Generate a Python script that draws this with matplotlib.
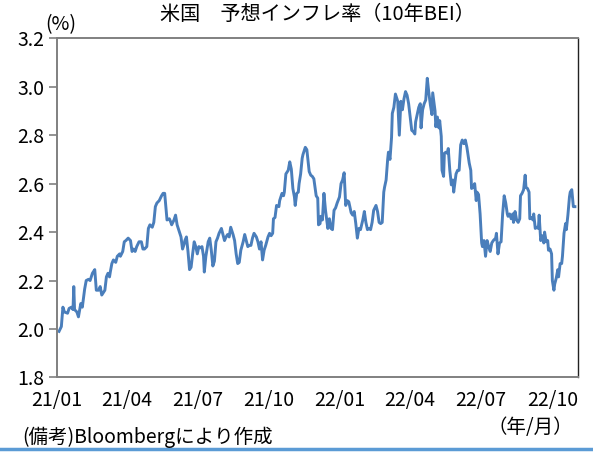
import pandas as pd
import matplotlib
matplotlib.use('Agg')
from matplotlib import pyplot as plt
from matplotlib.lines import Line2D

plt.rcParams['font.family'] = ['Noto Sans CJK JP', 'DejaVu Sans']

# ### data: US 10y breakeven inflation
start = pd.Timestamp('2021-01-04')
day_offsets = [
    0, 3, 5, 7, 11, 13, 16, 18, 19, 20, 23, 25, 28, 30, 33, 35, 38, 40, 42, 43,
    46, 48, 51, 53, 55, 59, 61, 63, 65, 66, 68, 70, 73, 75, 78, 79, 82, 84, 86, 89,
    92, 94, 96, 98, 100, 103, 106, 108, 110, 113, 115, 117, 120, 122, 124, 126, 129, 132, 134, 136,
    138, 139, 142, 144, 145, 148, 150, 152, 155, 157, 159, 161, 162, 164, 166, 168, 170, 172, 174, 176,
    178, 180, 182, 184, 186, 187, 189, 192, 194, 196, 198, 200, 202, 204, 206, 209, 211, 213, 215, 217,
    219, 221, 224, 226, 228, 230, 232, 234, 237, 239, 241, 243, 245, 247, 249, 251, 254, 256, 258, 260,
    262, 264, 266, 269, 271, 273, 275, 276, 278, 280, 283, 284, 287, 289, 290, 292, 295, 297, 299, 301,
    303, 304, 306, 308, 309, 311, 313, 314, 317, 319, 320, 322, 324, 326, 328, 331, 333, 334, 336, 337,
    339, 341, 343, 346, 348, 350, 352, 354, 356, 358, 361, 363, 365, 367, 369, 371, 373, 376, 378, 380,
    382, 384, 386, 388, 391, 393, 395, 397, 399, 401, 403, 405, 408, 410, 412, 414, 416, 418, 419, 421,
    423, 424, 426, 428, 429, 431, 433, 434, 436, 438, 440, 442, 444, 446, 448, 450, 452, 454, 456, 458,
    459, 461, 463, 465, 466, 468, 470, 472, 474, 476, 478, 480, 481, 484, 485, 487, 489, 490, 492, 493,
    495, 496, 498, 500, 501, 503, 505, 507, 508, 511, 513, 515, 517, 519, 521, 523, 525, 528, 530, 531,
    533, 535, 537, 538, 540, 542, 544, 545, 547, 549, 551, 553, 555, 557, 559, 562, 563, 565, 567, 569,
    571, 573, 575, 577, 578, 580, 582, 584, 585, 587, 589, 591, 593, 594, 596, 598, 600, 601, 603, 605,
    606, 608, 610, 611, 613, 615, 617, 618, 620, 622, 624, 625, 627, 629, 630, 632, 634, 635, 637, 638,
    640, 642, 643, 645, 647, 648, 650, 652, 653, 655, 657, 658, 660, 662, 664,
]
bei = [
    1.99, 2.01, 2.09, 2.07, 2.065, 2.085, 2.09, 2.08, 2.175, 2.08, 2.07, 2.05, 2.105, 2.09, 2.165, 2.20, 2.205, 2.20, 2.22, 2.23,
    2.245, 2.16, 2.16, 2.175, 2.14, 2.16, 2.215, 2.23, 2.215, 2.235, 2.27, 2.285, 2.275, 2.30, 2.31, 2.30, 2.32, 2.36, 2.365, 2.375,
    2.365, 2.32, 2.33, 2.32, 2.34, 2.36, 2.36, 2.33, 2.33, 2.34, 2.415, 2.43, 2.42, 2.44, 2.505, 2.52, 2.53, 2.55, 2.56, 2.56,
    2.49, 2.45, 2.455, 2.44, 2.43, 2.45, 2.47, 2.43, 2.40, 2.38, 2.33, 2.35, 2.365, 2.38, 2.32, 2.245, 2.255, 2.31, 2.36, 2.34,
    2.31, 2.34, 2.335, 2.34, 2.30, 2.235, 2.30, 2.36, 2.375, 2.325, 2.26, 2.28, 2.36, 2.375, 2.395, 2.415, 2.39, 2.365, 2.38, 2.39,
    2.38, 2.42, 2.39, 2.365, 2.31, 2.27, 2.275, 2.325, 2.36, 2.39, 2.365, 2.34, 2.345, 2.345, 2.375, 2.395, 2.38, 2.36, 2.33, 2.36,
    2.285, 2.325, 2.345, 2.38, 2.395, 2.385, 2.395, 2.455, 2.46, 2.51, 2.505, 2.53, 2.56, 2.55, 2.565, 2.64, 2.655, 2.69, 2.66, 2.58,
    2.545, 2.51, 2.56, 2.565, 2.60, 2.64, 2.705, 2.72, 2.75, 2.74, 2.71, 2.65, 2.635, 2.63, 2.62, 2.55, 2.54, 2.43, 2.435, 2.465,
    2.45, 2.56, 2.49, 2.415, 2.455, 2.415, 2.41, 2.49, 2.50, 2.52, 2.545, 2.60, 2.615, 2.645, 2.51, 2.53, 2.525, 2.48, 2.47, 2.485,
    2.435, 2.375, 2.415, 2.41, 2.45, 2.485, 2.44, 2.41, 2.415, 2.41, 2.44, 2.49, 2.51, 2.485, 2.44, 2.435, 2.44, 2.565, 2.585, 2.615,
    2.70, 2.73, 2.70, 2.79, 2.89, 2.915, 2.97, 2.96, 2.94, 2.80, 2.94, 2.905, 2.95, 2.98, 2.965, 2.93, 2.875, 2.82, 2.815, 2.805,
    2.855, 2.885, 2.915, 2.93, 2.83, 2.905, 2.93, 2.945, 3.035, 2.975, 2.925, 2.885, 2.975, 2.90, 2.835, 2.875, 2.83, 2.86, 2.795, 2.655,
    2.63, 2.725, 2.73, 2.725, 2.745, 2.655, 2.595, 2.615, 2.565, 2.64, 2.655, 2.655, 2.76, 2.78, 2.765, 2.78, 2.75, 2.685, 2.655, 2.58,
    2.585, 2.60, 2.53, 2.565, 2.555, 2.475, 2.355, 2.34, 2.365, 2.30, 2.365, 2.34, 2.32, 2.355, 2.365, 2.375, 2.395, 2.31, 2.355, 2.36,
    2.475, 2.55, 2.52, 2.475, 2.465, 2.475, 2.455, 2.475, 2.44, 2.485, 2.45, 2.44, 2.455, 2.55, 2.56, 2.575, 2.635, 2.585, 2.58, 2.565,
    2.455, 2.46, 2.45, 2.475, 2.415, 2.42, 2.415, 2.47, 2.365, 2.385, 2.355, 2.40, 2.36, 2.365, 2.325, 2.33, 2.31, 2.20, 2.16, 2.185,
    2.21, 2.245, 2.215, 2.27, 2.27, 2.30, 2.395, 2.435, 2.41, 2.47, 2.545, 2.565, 2.575, 2.505, 2.505,
]

tick_dates = ['2021-01-01', '2021-04-01', '2021-07-01', '2021-10-01',
              '2022-01-01', '2022-04-01', '2022-07-01', '2022-10-01']
tick_labels = ['21/01', '21/04', '21/07', '21/10', '22/01', '22/04', '22/07', '22/10']
y_ticks = [1.8, 2.0, 2.2, 2.4, 2.6, 2.8, 3.0, 3.2]

dates = start + pd.to_timedelta(day_offsets, unit='D')

# Setup figure
fig = plt.figure(figsize=(5.93, 4.54), dpi=100)
ax = fig.add_axes([0.0956, 0.1687, 0.8791, 0.7469])

ax.plot(dates, bei, color='#4a7ebb', lw=2.1, solid_joinstyle='round')

ax.set_ylim(1.8, 3.2)
ax.set_yticks(y_ticks)
ax.set_yticklabels([f'{v:.1f}' for v in y_ticks])
ax.set_xlim(pd.Timestamp('2021-01-01'), start + pd.Timedelta(days=668))
ax.set_xticks(pd.to_datetime(tick_dates))
ax.set_xticklabels(tick_labels)

ax.tick_params(axis='x', length=0, pad=9, labelsize=14, colors='#000000')
ax.tick_params(axis='y', length=6, width=1.2, color='#808080', pad=3, labelsize=14)

for side in ['left', 'top', 'bottom']:
    ax.spines[side].set_color('#808080')
    ax.spines[side].set_linewidth(1.4)
ax.spines['right'].set_color('#222222')
ax.spines['right'].set_linewidth(1.0)

# Texts
fig.text(0.535, 1 - 14.5 / 454, '米国　予想インフレ率（10年BEI）', ha='center', va='center', fontsize=14.5)
fig.text(61 / 593, 1 - 25 / 454, '(%)', ha='center', va='center', fontsize=14)
fig.text(573 / 593, 1 - 428 / 454, '（年/月）', ha='right', va='center', fontsize=14)
fig.text(22 / 593, 1 - 437 / 454, '(備考)Bloombergにより作成', ha='left', va='center', fontsize=14)

# bottom blue rule
fig.add_artist(Line2D([0, 1], [1 - 449 / 454] * 2, transform=fig.transFigure, color='#5b9bd5', lw=2.5))

plt.savefig('out.png', dpi=100)
